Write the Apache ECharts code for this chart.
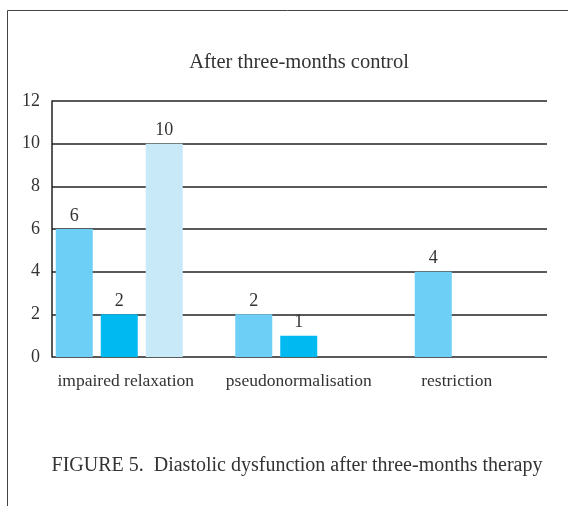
<!DOCTYPE html>
<html>
<head>
<meta charset="utf-8">
<script src="https://cdn.jsdelivr.net/npm/echarts@6/dist/echarts.min.js"></script>
<style>
  html, body { margin: 0; padding: 0; background: #fff; }
  #chart { width: 568px; height: 506px; }
</style>
</head>
<body>
<div id="chart"></div>
<script>
// data
var categories = ["impaired relaxation", "pseudonormalisation", "restriction"];
var seriesA = [6, 2, 4];
var seriesB = [2, 1, null];
var seriesC = [10, null, null];
var yTicks = [0, 2, 4, 6, 8, 10, 12];

var FONT = "Liberation Serif";
var chart = echarts.init(document.getElementById("chart"));

// small label shifts, the source figure does not center them under the groups
var labelPad = [[0, 0, 0, 13], [0, 0, 0, 0], [0, 43, 0, 0]];

function barSeries(values, color) {
  return {
    type: "bar",
    xAxisIndex: 1,
    yAxisIndex: 1,
    data: values,
    barWidth: 37,
    barGap: "21.6%",
    itemStyle: { color: color },
    label: {
      show: true,
      position: "top",
      distance: 4,
      fontFamily: FONT,
      fontSize: 18,
      color: "#333"
    }
  };
}

var option = {
  animation: false,
  textStyle: { fontFamily: FONT },
  title: [
    {
      text: "After three-months control",
      left: 294,
      top: 47,
      textAlign: "center",
      textStyle: { fontFamily: FONT, fontSize: 20.5, fontWeight: "normal", color: "#333" }
    },
    {
      text: "FIGURE 5.  Diastolic dysfunction after three-months therapy",
      left: 292,
      top: 451,
      textAlign: "center",
      textStyle: { fontFamily: FONT, fontSize: 20, fontWeight: "normal", color: "#333" }
    }
  ],
  graphic: [
    {
      type: "polyline",
      shape: { points: [[7.5, 506], [7.5, 10.5], [568, 10.5]] },
      style: { stroke: "#444", lineWidth: 1, fill: null }
    }
  ],
  grid: [
    { left: 52, top: 101, width: 495, height: 256 },
    { left: 29.5, top: 101, width: 540, height: 256 }
  ],
  xAxis: [
    { gridIndex: 0, type: "category", data: [""], show: false },
    {
      gridIndex: 1,
      type: "category",
      data: categories.map(function (c, i) {
        return { value: c, textStyle: { padding: labelPad[i] } };
      }),
      axisLine: { show: false },
      axisTick: { show: false },
      axisLabel: {
        interval: 0,
        hideOverlap: false,
        fontFamily: FONT,
        fontSize: 17.5,
        color: "#333",
        margin: 15
      }
    }
  ],
  yAxis: [
    {
      gridIndex: 0,
      type: "value",
      min: yTicks[0],
      max: yTicks[yTicks.length - 1],
      interval: 2,
      axisLine: { show: true, lineStyle: { color: "#222", width: 1.5 } },
      axisTick: { show: false },
      axisLabel: { fontFamily: FONT, fontSize: 18, color: "#333", margin: 12 },
      splitLine: { show: true, lineStyle: { color: "#222", width: 1.5 } }
    },
    {
      gridIndex: 1,
      type: "value",
      min: yTicks[0],
      max: yTicks[yTicks.length - 1],
      interval: 2,
      show: false,
      splitLine: { show: false }
    }
  ],
  series: [
    barSeries(seriesA, "#6dcff6"),
    barSeries(seriesB, "#00b9f1"),
    barSeries(seriesC, "#c8e9f8")
  ]
};

chart.setOption(option);
</script>
</body>
</html>
